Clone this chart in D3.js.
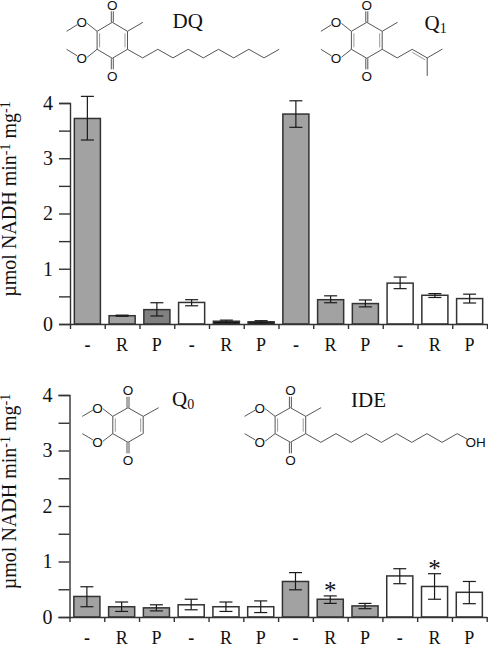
<!DOCTYPE html>
<html>
<head>
<meta charset="utf-8">
<script src="https://cdn.jsdelivr.net/npm/d3@7"></script>
<style>
  html, body { margin: 0; padding: 0; background: #fff; }
  svg { display: block; }
  text { font-family: "Liberation Serif", serif; fill: #111; }
</style>
</head>
<body>
<svg width="488" height="645"></svg>
<script>
// tick labels and categories
const treatments = ["-", "R", "P", "-", "R", "P", "-", "R", "P", "-", "R", "P"];
const yTicks = [0, 0.5, 1, 1.5, 2, 2.5, 3, 3.5, 4];
const yTitle = "µmol NADH min";

// top panel: DQ / Q1
const topShade = ["mid", "mid", "dark", "none", "black", "black", "mid", "mid", "mid", "none", "none", "none"];
const topValues = [3.72, 0.15, 0.26, 0.39, 0.05, 0.04, 3.80, 0.44, 0.37, 0.74, 0.52, 0.46];
const topHigh = [4.12, 0.16, 0.385, 0.44, 0.07, 0.06, 4.04, 0.51, 0.435, 0.85, 0.55, 0.54];
const topLow = [3.33, 0.14, 0.145, 0.33, 0.03, 0.02, 3.56, 0.385, 0.31, 0.64, 0.48, 0.38];

// bottom panel: Q0 / IDE
const botShade = ["mid", "mid", "mid", "none", "none", "none", "mid", "mid", "mid", "none", "none", "none"];
const botValues = [0.37, 0.185, 0.165, 0.22, 0.185, 0.185, 0.64, 0.32, 0.20, 0.74, 0.55, 0.445];
const botHigh = [0.545, 0.27, 0.22, 0.32, 0.27, 0.29, 0.80, 0.38, 0.245, 0.87, 0.78, 0.64];
const botLow = [0.185, 0.10, 0.11, 0.13, 0.10, 0.08, 0.49, 0.245, 0.15, 0.60, 0.32, 0.24];
const botStars = [7, 10];

const svg = d3.select("svg");
const shade = d3.scaleOrdinal()
  .domain(["mid", "dark", "none", "black"])
  .range(["#a2a2a2", "#808080", "#ffffff", "#111111"]);

// one bar panel
function panel(opt) {
  const x = d3.scaleBand().domain(d3.range(12)).range([opt.x0, opt.x1]).paddingInner(0.25).paddingOuter(0.125);
  const xEdge = d3.scaleLinear().domain([0, 12]).range([opt.x0, opt.x1]);
  const y = d3.scaleLinear().domain([0, 4]).range([opt.y0, opt.y4]);
  const g = svg.append("g");

  // bars
  g.selectAll("rect.bar").data(opt.values).enter()
    .append("rect")
    .attr("class", "bar")
    .attr("x", (d, i) => x(i))
    .attr("y", d => y(d))
    .attr("width", x.bandwidth())
    .attr("height", d => y(0) - y(d))
    .attr("fill", (d, i) => shade(opt.shades[i]))
    .attr("stroke", "#333")
    .attr("stroke-width", 1.5);

  // error bars
  const mid = i => x(i) + x.bandwidth() / 2;
  const err = g.selectAll("g.err").data(opt.values).enter().append("g").attr("class", "err")
    .attr("stroke", "#1a1a1a").attr("stroke-width", 1.2);
  err.append("line")
    .attr("x1", (d, i) => mid(i)).attr("x2", (d, i) => mid(i))
    .attr("y1", (d, i) => y(opt.high[i])).attr("y2", (d, i) => y(opt.low[i]));
  err.append("line")
    .attr("x1", (d, i) => mid(i) - 6.5).attr("x2", (d, i) => mid(i) + 6.5)
    .attr("y1", (d, i) => y(opt.high[i])).attr("y2", (d, i) => y(opt.high[i]));
  err.append("line")
    .attr("x1", (d, i) => mid(i) - 6.5).attr("x2", (d, i) => mid(i) + 6.5)
    .attr("y1", (d, i) => y(opt.low[i])).attr("y2", (d, i) => y(opt.low[i]));

  // stars
  g.selectAll("text.star").data(opt.stars || []).enter()
    .append("text")
    .attr("class", "star")
    .attr("x", d => mid(d))
    .attr("y", d => y(opt.high[d]) + 3)
    .attr("text-anchor", "middle")
    .style("font-size", "25px")
    .text("*");

  // axes
  const yAxis = g.append("g")
    .attr("transform", `translate(${opt.x0},0)`)
    .call(d3.axisLeft(y).tickValues(yTicks).tickSize(11).tickPadding(6)
      .tickFormat(d => Number.isInteger(d) ? d : ""));
  const xAxis = g.append("g")
    .attr("transform", `translate(0,${opt.y0})`)
    .call(d3.axisBottom(xEdge).tickValues(d3.range(13)).tickSize(5).tickSizeOuter(0).tickFormat(""));
  g.selectAll(".domain, .tick line").attr("stroke", "#333").attr("stroke-width", 1.4);
  yAxis.selectAll("text").style("font-size", "20px").attr("fill", "#111");

  g.selectAll("text.cat").data(treatments).enter()
    .append("text")
    .attr("class", "cat")
    .attr("x", (d, i) => mid(i))
    .attr("y", opt.y0 + 27)
    .attr("text-anchor", "middle")
    .style("font-size", "18px")
    .style("font-weight", d => d === "-" ? "bold" : "normal")
    .text(d => d);

  // y title, rotated, with superscripts
  const t = g.append("text")
    .attr("transform", `translate(15.5,${(opt.y0 + opt.y4) / 2 - 14.5}) rotate(-90)`)
    .attr("text-anchor", "middle")
    .style("font-size", "20px");
  t.append("tspan").text(yTitle);
  t.append("tspan").attr("dy", -6).style("font-size", "14px").text("-1");
  t.append("tspan").attr("dy", 6).text(" mg");
  t.append("tspan").attr("dy", -6).style("font-size", "14px").text("-1");
}

panel({ x0: 70, x1: 487, y0: 324, y4: 103, values: topValues, high: topHigh, low: topLow, shades: topShade });
panel({ x0: 69.5, x1: 486.7, y0: 617, y4: 395, values: botValues, high: botHigh, low: botLow, shades: botShade, stars: botStars });

// compound sketches
const chem = svg.append("g").attr("fill", "none").attr("stroke", "#555").attr("stroke-width", 1);

function bond(a, b, color) {
  chem.append("line")
    .attr("x1", a[0]).attr("y1", a[1]).attr("x2", b[0]).attr("y2", b[1])
    .attr("stroke", color || null);
}

function atom(label, x, y) {
  svg.append("text").attr("x", x).attr("y", y + 4.8)
    .attr("text-anchor", "middle").style("font-family", "'Liberation Sans', sans-serif").style("font-size", "13.5px")
    .text(label);
}

// quinone ring; returns the ring corner the tail hangs from
function quinone(cx, cy, hw, hh) {
  const o = hh / 2;
  const top = [cx, cy - hh], tr = [cx + hw, cy - o], br = [cx + hw, cy + o];
  const bot = [cx, cy + hh], bl = [cx - hw, cy + o], tl = [cx - hw, cy - o];
  [[top, tr], [tr, br], [br, bot], [bot, bl], [bl, tl], [tl, top]].forEach(p => bond(p[0], p[1]));
  // inner double bonds
  bond([cx - hw + 2.5, cy - o + 2], [cx - hw + 2.5, cy + o - 2], "#999");
  bond([cx + hw - 2.5, cy - o + 2], [cx + hw - 2.5, cy + o - 2], "#999");
  // carbonyls
  bond([cx - 1, cy - hh], [cx - 1, cy - hh - 11]);
  bond([cx + 1, cy - hh], [cx + 1, cy - hh - 11]);
  bond([cx - 1, cy + hh], [cx - 1, cy + hh + 11]);
  bond([cx + 1, cy + hh], [cx + 1, cy + hh + 11]);
  atom("O", cx, cy - hh - 17.5);
  atom("O", cx, cy + hh + 17.5);
  // methoxy groups
  bond(tl, [cx - hw - 10, cy - hh + 1]);
  bond(bl, [cx - hw - 10, cy + hh - 1]);
  bond([cx - hw - 20, cy - hh + 2.5], [cx - hw - 30.5, cy - o]);
  bond([cx - hw - 20, cy + hh - 2.5], [cx - hw - 30.5, cy + o]);
  atom("O", cx - hw - 15.3, cy - hh);
  atom("O", cx - hw - 15.3, cy + hh);
  // methyl
  bond(tr, [cx + hw + 15.4, cy - hh]);
  return br;
}

function zigzag(start, n, dx, dy) {
  let p = start;
  for (let i = 0; i < n; i++) {
    const q = [p[0] + dx, p[1] + (i % 2 === 0 ? dy : -dy)];
    bond(p, q);
    p = q;
  }
  return p;
}

function label(txt, sub, x, y) {
  const t = svg.append("text").attr("x", x).attr("y", y).style("font-size", "21px").text(txt);
  if (sub) {
    t.append("tspan").attr("dy", 3).style("font-size", "14px").text(sub);
  }
}

// DQ
let start = quinone(112.3, 40.3, 15.2, 18);
zigzag(start, 10, 15.17, 8.6);
label("DQ", null, 172.5, 28);

// Q1
start = quinone(366.8, 40.3, 15.4, 18);
const end = zigzag(start, 3, 15, 8.6);
bond(end, [end[0] + 15.2, end[1] - 8.8]);
bond(end, [end[0], end[1] + 18]);
bond([start[0] + 30, start[1] + 3], [start[0] + 43, start[1] + 10.5], "#999");
label("Q", "1", 424.5, 30);

// Q0
quinone(128, 425, 15.2, 17.3);
label("Q", "0", 172, 406);

// IDE
start = quinone(290.4, 425, 15.3, 17.3);
const tail = zigzag(start, 10, 15.15, 8.7);
bond(tail, [tail[0] + 10, tail[1] + 5.5]);
atom("OH", tail[0] + 18.5, tail[1] + 8.7);
label("IDE", null, 351, 406.5);
</script>
</body>
</html>
